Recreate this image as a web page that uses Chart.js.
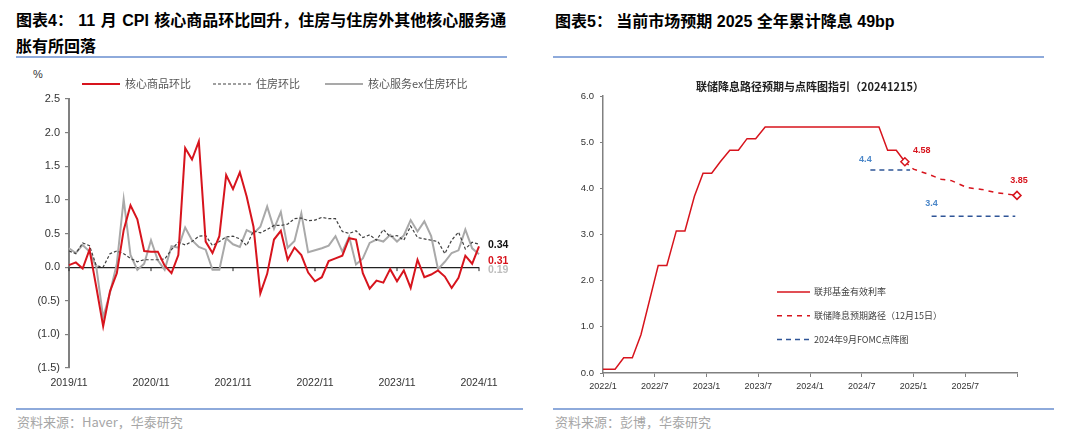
<!DOCTYPE html>
<html>
<head>
<meta charset="utf-8">
<script src="https://cdn.jsdelivr.net/npm/chart.js@4.4.1/dist/chart.umd.min.js"></script>
<style>
  body { margin: 0; background: #fff; width: 1080px; height: 437px; position: relative; overflow: hidden;
         font-family: "Liberation Sans", Arial, "Noto Sans CJK SC", sans-serif; }
  .title { position: absolute; font-weight: bold; font-size: 16px; line-height: 26px; color: #000; white-space: nowrap; }
  .rule { position: absolute; height: 0; border-top: 2px solid #8eaadb; }
  .src { position: absolute; font-size: 13px; color: #a6a6a6; font-family: "Noto Sans CJK SC", sans-serif; line-height: 16px; }
  .unit { position: absolute; font-size: 11px; color: #333; }
  canvas { position: absolute; }
</style>
</head>
<body>

<div class="title" style="left:16px; top:8px; word-spacing:1px;">图表4：&nbsp;11 月 CPI 核心商品环比回升，住房与住房外其他核心服务通<br>胀有所回落</div>
<div class="rule" style="left:16px; top:56px; width:491px;"></div>
<div class="unit" style="left:33px; top:68px;">%</div>
<canvas id="chartCpi" width="540" height="341" style="left:0; top:55px;"></canvas>
<div class="rule" style="left:16px; top:408px; width:507px;"></div>
<div class="src" style="left:17px; top:414px;">资料来源：Haver，华泰研究</div>

<div class="title" style="left:555px; top:9px;">图表5：&nbsp;当前市场预期 2025 全年累计降息 49bp</div>
<div class="rule" style="left:553px; top:56px; width:491px;"></div>
<canvas id="chartFed" width="535" height="330" style="left:545px; top:70px;"></canvas>
<div class="rule" style="left:553px; top:408px; width:501px;"></div>
<div class="src" style="left:555px; top:414px;">资料来源：彭博，华泰研究</div>

<script>
// ---- 图表4 data: monthly, 2019/11 .. 2024/11 (% m/m)
const firstYear = 2019, firstMonth = 11, monthCount = 61;
const coreGoods = [
  0.03, 0.07, -0.02, 0.26, -0.30, -0.88, -0.36, -0.09, 0.55, 0.92,
  0.71, 0.24, 0.23, 0.23, 0.02, -0.09, 0.18, 1.77, 1.60, 1.87,
  0.38, 0.21, 0.46, 1.37, 1.16, 1.41, 1.05, 0.60, -0.39, -0.10,
  0.41, 0.54, 0.11, 0.29, 0.18, -0.08, -0.21, -0.15, 0.09, 0.13,
  0.17, 0.43, 0.41, -0.09, -0.32, -0.20, -0.23, -0.03, -0.21, -0.05,
  -0.31, 0.11, -0.15, -0.11, -0.05, -0.14, -0.31, -0.16, 0.17, 0.05,
  0.31
];
const shelter = [
  0.24, 0.20, 0.36, 0.32, 0.02, 0.00, 0.20, 0.24, 0.20, 0.13,
  0.08, 0.11, 0.11, 0.11, 0.12, 0.26, 0.37, 0.33, 0.38, 0.46,
  0.47, 0.32, 0.38, 0.45, 0.46, 0.42, 0.32, 0.54, 0.51, 0.56,
  0.62, 0.62, 0.64, 0.72, 0.73, 0.69, 0.70, 0.74, 0.72, 0.72,
  0.53, 0.50, 0.54, 0.44, 0.48, 0.40, 0.56, 0.45, 0.47, 0.40,
  0.61, 0.44, 0.42, 0.40, 0.38, 0.20, 0.40, 0.52, 0.27, 0.37,
  0.34
];
const superCore = [
  0.28, 0.21, 0.33, 0.23, 0.00, -0.75, -0.38, 0.05, 1.01, 0.18,
  -0.04, 0.05, 0.40, 0.10, -0.04, 0.31, 0.29, 0.59, 0.40, 0.30,
  0.26, -0.04, -0.04, 0.43, 0.34, 0.30, 0.55, 0.50, 0.60, 0.90,
  0.57, 0.82, 0.29, 0.39, 0.80, 0.22, 0.25, 0.28, 0.32, 0.46,
  0.23, 0.45, 0.04, 0.13, 0.36, 0.41, 0.38, 0.48, 0.38, 0.47,
  0.70, 0.53, 0.68, 0.46, -0.03, 0.08, 0.21, 0.25, 0.56, 0.28,
  0.19
];
const cpiNames = ['核心商品环比', '住房环比', '核心服务ex住房环比'];

const months = [];
for (let i = 0; i < monthCount; i++) {
  const n = firstMonth - 1 + i;
  months.push((firstYear + Math.floor(n / 12)) + '/' + (n % 12 + 1));
}

// ---- 图表5 data: x = months since 2022/1
const fedMonths = [0, 1.4, 2.4, 3.4, 4.4, 6.4, 7.4, 8.5, 9.5, 10.6, 11.6, 12.6, 13.6, 14.7, 15.7, 16.7, 17.7, 18.8, 32.0, 33.0, 34.0, 35.0];
const fedRate   = [0.08, 0.08, 0.33, 0.33, 0.83, 2.33, 2.33, 3.08, 3.08, 3.83, 4.33, 4.33, 4.58, 4.83, 4.83, 5.08, 5.08, 5.33, 5.33, 4.83, 4.83, 4.58];
const pathMonths = [35.0, 36.0, 37.7, 39.2, 40.4, 42.2, 43.9, 45.6, 48.0];
const pathRate   = [4.58, 4.42, 4.31, 4.20, 4.17, 4.02, 3.98, 3.91, 3.85];
const dot2024Months = [31.0, 35.6];
const dot2024 = [4.4, 4.4];
const dot2025Months = [38.1, 47.8];
const dot2025 = [3.4, 3.4];
const fedNames = ['联邦基金有效利率', '联储降息预期路径（12月15日）', '2024年9月FOMC点阵图'];

const red = '#d7141d';
const pairs = (xs, ys) => xs.map((x, i) => ({ x: x, y: ys[i] }));

Chart.defaults.font.family = '"Liberation Sans", Arial, "Noto Sans CJK SC", sans-serif';
Chart.defaults.color = '#333';

// legend keys drawn from each dataset's own line style
const lineKey = {
  id: 'lineKey',
  afterDraw(chart, args, o) {
    const { ctx, chartArea: a } = chart;
    ctx.save();
    o.items.forEach(it => {
      const ds = chart.data.datasets[it.dataset];
      const x = a.left + it.dx;
      const y = (it.fromBottom ? a.bottom : a.top) + it.dy;
      ctx.strokeStyle = ds.borderColor;
      ctx.lineWidth = ds.borderWidth;
      ctx.setLineDash(ds.borderDash || []);
      ctx.beginPath();
      ctx.moveTo(x, y);
      ctx.lineTo(x + o.w, y);
      ctx.stroke();
      ctx.setLineDash([]);
      ctx.fillStyle = o.color;
      ctx.font = o.font;
      ctx.textAlign = 'left';
      ctx.textBaseline = 'middle';
      ctx.fillText(ds.label, x + o.w + o.gap, y);
    });
    ctx.restore();
  }
};

// last value tags at the right end of chart 4
const endTags = {
  id: 'endTags',
  afterDatasetsDraw(chart, args, opts) {
    const ctx = chart.ctx;
    ctx.save();
    ctx.font = 'bold 10.5px "Liberation Sans", Arial';
    ctx.textBaseline = 'middle';
    ctx.textAlign = 'left';
    opts.items.forEach(t => {
      const meta = chart.getDatasetMeta(t.dataset);
      const pt = meta.data[meta.data.length - 1];
      const data = chart.data.datasets[t.dataset].data;
      ctx.fillStyle = t.color;
      ctx.fillText(data[data.length - 1].toFixed(2), chart.chartArea.right + 9, pt.y + t.dy);
    });
    ctx.restore();
  }
};

// small marks on the zero line, one per year
const zeroTicks = {
  id: 'zeroTicks',
  beforeDatasetsDraw(chart) {
    const { ctx, scales: { x, y } } = chart;
    const y0 = y.getPixelForValue(0);
    ctx.save();
    ctx.strokeStyle = '#222';
    ctx.lineWidth = 1;
    months.forEach((m, i) => {
      if (i % 12 !== 0) return;
      const px = x.getPixelForValue(i);
      ctx.beginPath();
      ctx.moveTo(px, y0);
      ctx.lineTo(px, y0 + 4);
      ctx.stroke();
    });
    ctx.restore();
  }
};

new Chart(document.getElementById('chartCpi'), {
  type: 'line',
  data: {
    labels: months,
    datasets: [
      { label: cpiNames[0], data: coreGoods, borderColor: red, borderWidth: 2, pointRadius: 0, tension: 0 },
      { label: cpiNames[1], data: shelter, borderColor: '#404040', borderWidth: 1.2, borderDash: [3, 2], pointRadius: 0, tension: 0 },
      { label: cpiNames[2], data: superCore, borderColor: '#a9a9a9', borderWidth: 2, pointRadius: 0, tension: 0 }
    ]
  },
  options: {
    responsive: false,
    animation: false,
    layout: { padding: { top: 44, right: 61, bottom: 0, left: 0 } },
    plugins: {
      legend: { display: false },
      tooltip: { enabled: false },
      lineKey: {
        w: 38, gap: 5, color: '#555', font: '11px "Noto Sans CJK SC", "Liberation Sans"',
        items: [
          { dataset: 0, dx: 13, dy: -15 },
          { dataset: 1, dx: 144, dy: -15 },
          { dataset: 2, dx: 256, dy: -15 }
        ]
      },
      endTags: { items: [
        { dataset: 1, color: '#111', dy: 0.5 },
        { dataset: 0, color: red, dy: 14.5 },
        { dataset: 2, color: '#bdbdbd', dy: 15.5 }
      ] }
    },
    scales: {
      x: {
        grid: { display: false },
        border: { display: false },
        ticks: {
          autoSkip: false, maxRotation: 0, padding: 1, color: '#333', font: { size: 10.5 },
          callback: (v, i) => (i % 12 === 0 ? months[i] : '')
        },
        afterFit: s => { s.height = 28; }
      },
      y: {
        min: -1.5, max: 2.5,
        ticks: {
          stepSize: 0.5, padding: 5, color: '#333', font: { size: 11 },
          callback: v => (v < 0 ? '(' + Math.abs(v).toFixed(1) + ')' : v.toFixed(1))
        },
        grid: {
          color: c => (c.tick && c.tick.value === 0 ? '#222' : 'rgba(0,0,0,0)'),
          lineWidth: 1.2, tickLength: 4, tickColor: '#808080', tickWidth: 1.2
        },
        border: { display: true, color: '#808080', width: 2 },
        afterFit: s => { s.width = 69; }
      }
    }
  },
  plugins: [lineKey, endTags, zeroTicks]
});

// value tags next to path end points and dot plot lines
const valueTags = {
  id: 'valueTags',
  afterDatasetsDraw(chart, args, opts) {
    const ctx = chart.ctx;
    ctx.save();
    ctx.font = 'bold 9px "Liberation Sans", Arial';
    ctx.textBaseline = 'middle';
    opts.items.forEach(t => {
      const meta = chart.getDatasetMeta(t.dataset);
      const k = t.last ? meta.data.length - 1 : 0;
      const pt = meta.data[k];
      const v = chart.data.datasets[t.dataset].data[k].y;
      ctx.fillStyle = t.color;
      ctx.textAlign = t.align;
      ctx.fillText(v.toFixed(t.digits), pt.x + t.dx, pt.y + t.dy);
    });
    ctx.restore();
  }
};

new Chart(document.getElementById('chartFed'), {
  type: 'line',
  data: {
    datasets: [
      { label: fedNames[0], data: pairs(fedMonths, fedRate), borderColor: red, borderWidth: 1.5, pointRadius: 0, order: 1 },
      { label: fedNames[1], data: pairs(pathMonths, pathRate), borderColor: red, borderWidth: 1.5, borderDash: [5, 5],
        pointStyle: 'rectRot', pointBackgroundColor: '#fff', pointBorderColor: red, pointBorderWidth: 1.5,
        pointRadius: c => (c.dataIndex === 0 || c.dataIndex === pathRate.length - 1 ? 4 : 0), order: 0, clip: false },
      { label: fedNames[2], data: pairs(dot2024Months, dot2024), borderColor: '#2f5597', borderWidth: 1.5, borderDash: [5, 4], pointRadius: 0, order: 2 },
      { label: fedNames[2], data: pairs(dot2025Months, dot2025), borderColor: '#2f5597', borderWidth: 1.5, borderDash: [5, 4], pointRadius: 0, order: 2 }
    ]
  },
  options: {
    responsive: false,
    animation: false,
    layout: { padding: { top: 0, right: 63, bottom: 0, left: 0 } },
    plugins: {
      legend: { display: false },
      tooltip: { enabled: false },
      title: {
        display: true, fullSize: false,
        text: '联储降息路径预期与点阵图指引（20241215）',
        color: '#222', font: { family: '"Noto Sans CJK SC"', weight: 'bold', size: 11 },
        padding: { top: 10, bottom: 3 }
      },
      valueTags: { items: [
        { dataset: 1, last: false, dx: 8, dy: -11, align: 'left', color: red, digits: 2 },
        { dataset: 1, last: true, dx: 2, dy: -15, align: 'center', color: red, digits: 2 },
        { dataset: 2, last: false, dx: -5, dy: -10, align: 'center', color: '#4a86c8', digits: 1 },
        { dataset: 3, last: false, dx: 0, dy: -13, align: 'center', color: '#4a86c8', digits: 1 }
      ] },
      lineKey: {
        w: 33, gap: 4, color: '#404040', font: '9px "Noto Sans CJK SC", "Liberation Sans"',
        items: [
          { dataset: 0, dx: 174, dy: -81, fromBottom: true },
          { dataset: 1, dx: 174, dy: -57.2, fromBottom: true },
          { dataset: 2, dx: 174, dy: -33.4, fromBottom: true }
        ]
      }
    },
    scales: {
      x: {
        type: 'linear', min: 0, max: 48,
        ticks: {
          stepSize: 6, padding: 4, maxRotation: 0, color: '#333', font: { size: 9 },
          callback: v => (v >= 48 ? '' : (2022 + Math.floor(v / 12)) + '/' + (v % 12 + 1))
        },
        grid: { drawOnChartArea: false, tickLength: 4, tickColor: '#808080' },
        border: { display: true, color: '#808080', width: 1.5 },
        afterFit: s => { s.height = 27; }
      },
      y: {
        min: 0, max: 6,
        ticks: { stepSize: 1, padding: 6, color: '#333', font: { size: 9.5 }, callback: v => v.toFixed(1) },
        grid: { drawOnChartArea: false, tickLength: 3, tickColor: '#808080' },
        border: { display: true, color: '#808080', width: 1.5 },
        afterFit: s => { s.width = 58; }
      }
    }
  },
  plugins: [valueTags, lineKey]
});
</script>
</body>
</html>
